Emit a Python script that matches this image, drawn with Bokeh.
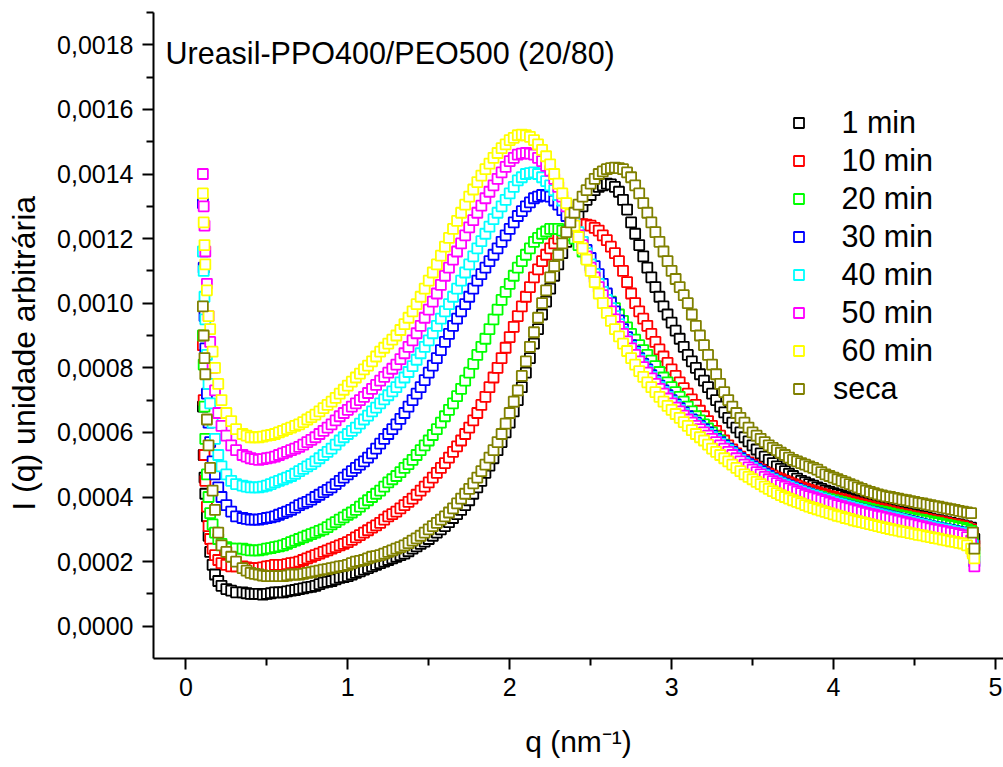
from bokeh.plotting import figure
from bokeh.models import Range1d, FixedTicker, CustomJSTickFormatter, Label, Legend, LegendItem
from bokeh.embed import file_html
from bokeh.resources import INLINE

# q values (nm^-1)
q = [0.105, 0.11, 0.115, 0.12, 0.13, 0.14, 0.15, 0.165, 0.18, 0.2, 0.22, 0.25, 0.28, 0.31,
     0.35, 0.375, 0.4, 0.425, 0.45, 0.475, 0.5, 0.525, 0.55, 0.575,
     0.6, 0.625, 0.65, 0.675, 0.7, 0.725, 0.75, 0.775, 0.8, 0.825,
     0.85, 0.875, 0.9, 0.925, 0.95, 0.975, 1.0, 1.025, 1.05, 1.075,
     1.1, 1.125, 1.15, 1.175, 1.2, 1.225, 1.25, 1.275, 1.3, 1.325,
     1.35, 1.375, 1.4, 1.425, 1.45, 1.475, 1.5, 1.525, 1.55, 1.575,
     1.6, 1.625, 1.65, 1.675, 1.7, 1.725, 1.75, 1.775, 1.8, 1.825,
     1.85, 1.875, 1.9, 1.925, 1.95, 1.975, 2.0, 2.025, 2.05, 2.075,
     2.1, 2.125, 2.15, 2.175, 2.2, 2.225, 2.25, 2.275, 2.3, 2.325,
     2.35, 2.375, 2.4, 2.425, 2.45, 2.475, 2.5, 2.525, 2.55, 2.575,
     2.6, 2.625, 2.65, 2.675, 2.7, 2.725, 2.75, 2.775, 2.8, 2.825,
     2.85, 2.875, 2.9, 2.925, 2.95, 2.975, 3.0, 3.025, 3.05, 3.075,
     3.1, 3.125, 3.15, 3.175, 3.2, 3.225, 3.25, 3.275, 3.3, 3.325,
     3.35, 3.375, 3.4, 3.425, 3.45, 3.475, 3.5, 3.525, 3.55, 3.575,
     3.6, 3.625, 3.65, 3.675, 3.7, 3.725, 3.75, 3.775, 3.8, 3.825,
     3.85, 3.875, 3.9, 3.925, 3.95, 3.975, 4.0, 4.025, 4.05, 4.075,
     4.1, 4.125, 4.15, 4.175, 4.2, 4.225, 4.25, 4.275, 4.3, 4.325,
     4.35, 4.375, 4.4, 4.425, 4.45, 4.475, 4.5, 4.525, 4.55, 4.575,
     4.6, 4.625, 4.65, 4.675, 4.7, 4.725, 4.75, 4.775, 4.8, 4.825,
     4.85, 4.86, 4.87]

# Intensities in units of 1e-4 (arbitrary units)
SCALE = 1e-4
i_1min = [6.8, 5.3, 4.6, 4.1, 3.4, 2.8, 2.3, 1.9, 1.6, 1.4, 1.25, 1.15, 1.1, 1.05,
          1.05, 1.02, 1.0, 1.0, 1.0, 0.98, 1.0, 1.02, 1.05, 1.05,
          1.05, 1.08, 1.1, 1.12, 1.15, 1.17, 1.2, 1.22, 1.25, 1.3,
          1.35, 1.37, 1.4, 1.45, 1.5, 1.52, 1.55, 1.6, 1.65, 1.7,
          1.75, 1.8, 1.85, 1.9, 1.95, 2.0, 2.05, 2.1, 2.15, 2.2,
          2.25, 2.32, 2.4, 2.47, 2.55, 2.62, 2.7, 2.8, 2.9, 3.0,
          3.1, 3.22, 3.35, 3.47, 3.6, 3.75, 3.9, 4.1, 4.3, 4.5,
          4.75, 4.97, 5.2, 5.45, 5.7, 6.0, 6.3, 6.65, 7.0, 7.4,
          7.85, 8.3, 8.75, 9.2, 9.65, 10.05, 10.45, 10.85, 11.2, 11.55,
          11.9, 12.2, 12.5, 12.75, 13.0, 13.2, 13.35, 13.5, 13.6, 13.65,
          13.7, 13.68, 13.6, 13.45, 13.2, 12.9, 12.5, 12.15, 11.8, 11.45,
          11.1, 10.8, 10.5, 10.2, 9.9, 9.65, 9.4, 9.15, 8.9, 8.65,
          8.4, 8.2, 8.0, 7.8, 7.6, 7.4, 7.2, 7.0, 6.8, 6.62,
          6.45, 6.3, 6.15, 6.0, 5.85, 5.72, 5.6, 5.47, 5.35, 5.25,
          5.15, 5.05, 4.95, 4.87, 4.8, 4.72, 4.65, 4.57, 4.5, 4.45,
          4.4, 4.35, 4.3, 4.25, 4.2, 4.16, 4.12, 4.08, 4.05, 4.0,
          3.95, 3.92, 3.88, 3.84, 3.8, 3.77, 3.73, 3.7, 3.67, 3.63,
          3.6, 3.57, 3.55, 3.52, 3.5, 3.47, 3.45, 3.42, 3.4, 3.37,
          3.33, 3.3, 3.28, 3.25, 3.22, 3.2, 3.17, 3.15, 3.12, 3.09,
          3.05, 2.9, 2.7]
i_10min = [8.7, 7.0, 5.3, 4.5, 3.7, 3.1, 2.7, 2.4, 2.2, 2.05, 1.95, 1.9, 1.85, 1.85,
           1.85, 1.82, 1.8, 1.8, 1.8, 1.82, 1.85, 1.87, 1.9, 1.9,
           1.9, 1.92, 1.95, 1.97, 2.0, 2.05, 2.1, 2.15, 2.2, 2.25,
           2.3, 2.35, 2.4, 2.45, 2.5, 2.55, 2.6, 2.67, 2.75, 2.82,
           2.9, 2.97, 3.05, 3.12, 3.2, 3.3, 3.4, 3.47, 3.55, 3.65,
           3.75, 3.85, 3.95, 4.07, 4.2, 4.32, 4.45, 4.6, 4.75, 4.9,
           5.05, 5.22, 5.4, 5.57, 5.75, 5.95, 6.15, 6.37, 6.6, 6.85,
           7.1, 7.4, 7.7, 8.0, 8.3, 8.62, 8.95, 9.27, 9.6, 9.9,
           10.2, 10.5, 10.8, 11.05, 11.3, 11.5, 11.7, 11.85, 12.0, 12.12,
           12.25, 12.32, 12.4, 12.43, 12.45, 12.43, 12.4, 12.33, 12.25, 12.1,
           11.95, 11.75, 11.55, 11.3, 11.0, 10.65, 10.3, 10.0, 9.75, 9.52,
           9.3, 9.05, 8.8, 8.57, 8.35, 8.15, 7.95, 7.75, 7.55, 7.37,
           7.2, 7.02, 6.85, 6.67, 6.5, 6.35, 6.2, 6.05, 5.9, 5.75,
           5.6, 5.47, 5.35, 5.25, 5.15, 5.07, 5.0, 4.92, 4.85, 4.78,
           4.72, 4.66, 4.6, 4.55, 4.5, 4.45, 4.4, 4.35, 4.3, 4.26,
           4.22, 4.18, 4.14, 4.1, 4.07, 4.03, 4.0, 3.96, 3.93, 3.9,
           3.86, 3.83, 3.8, 3.77, 3.74, 3.71, 3.68, 3.65, 3.62, 3.59,
           3.56, 3.53, 3.5, 3.47, 3.45, 3.42, 3.4, 3.37, 3.35, 3.32,
           3.3, 3.27, 3.25, 3.22, 3.2, 3.17, 3.15, 3.12, 3.1, 3.06,
           3.0, 2.8, 2.5]
i_20min = [9.0, 8.1, 6.8, 5.8, 4.7, 4.0, 3.5, 3.15, 2.9, 2.7, 2.55, 2.45, 2.4, 2.4,
           2.4, 2.37, 2.35, 2.35, 2.35, 2.37, 2.4, 2.42, 2.45, 2.47,
           2.5, 2.55, 2.6, 2.65, 2.7, 2.75, 2.8, 2.85, 2.9, 2.95,
           3.0, 3.07, 3.15, 3.22, 3.3, 3.37, 3.45, 3.52, 3.6, 3.7,
           3.8, 3.9, 4.0, 4.1, 4.2, 4.32, 4.45, 4.55, 4.65, 4.77,
           4.9, 5.02, 5.15, 5.3, 5.45, 5.6, 5.75, 5.92, 6.1, 6.3,
           6.5, 6.7, 6.9, 7.12, 7.35, 7.6, 7.85, 8.12, 8.4, 8.65,
           8.9, 9.2, 9.5, 9.8, 10.1, 10.35, 10.6, 10.85, 11.1, 11.3,
           11.5, 11.7, 11.9, 12.02, 12.15, 12.22, 12.3, 12.3, 12.3, 12.25,
           12.2, 12.1, 12.0, 11.8, 11.6, 11.37, 11.15, 10.92, 10.7, 10.47,
           10.25, 10.05, 9.85, 9.65, 9.45, 9.25, 9.05, 8.87, 8.7, 8.55,
           8.4, 8.22, 8.05, 7.87, 7.7, 7.55, 7.4, 7.25, 7.1, 6.95,
           6.8, 6.65, 6.5, 6.37, 6.25, 6.12, 6.0, 5.87, 5.75, 5.62,
           5.5, 5.37, 5.25, 5.15, 5.05, 4.96, 4.88, 4.8, 4.73, 4.66,
           4.6, 4.54, 4.48, 4.42, 4.37, 4.32, 4.27, 4.22, 4.18, 4.14,
           4.1, 4.06, 4.03, 4.0, 3.96, 3.93, 3.9, 3.87, 3.84, 3.81,
           3.78, 3.75, 3.72, 3.69, 3.66, 3.63, 3.6, 3.57, 3.55, 3.52,
           3.49, 3.46, 3.44, 3.41, 3.39, 3.36, 3.34, 3.31, 3.29, 3.26,
           3.24, 3.21, 3.19, 3.16, 3.14, 3.11, 3.09, 3.06, 3.04, 3.0,
           2.95, 2.7, 2.3]
i_30min = [13.1, 11.1, 9.6, 8.6, 7.2, 6.3, 5.7, 5.1, 4.7, 4.3, 4.0, 3.75, 3.55, 3.4,
           3.35, 3.32, 3.3, 3.3, 3.3, 3.32, 3.35, 3.37, 3.4, 3.45,
           3.5, 3.55, 3.6, 3.67, 3.75, 3.8, 3.85, 3.92, 4.0, 4.07,
           4.15, 4.22, 4.3, 4.4, 4.5, 4.6, 4.7, 4.8, 4.9, 5.0,
           5.1, 5.22, 5.35, 5.5, 5.65, 5.8, 5.95, 6.1, 6.25, 6.42,
           6.6, 6.8, 7.0, 7.2, 7.4, 7.62, 7.85, 8.07, 8.3, 8.55,
           8.8, 9.05, 9.3, 9.52, 9.75, 9.97, 10.2, 10.45, 10.7, 10.9,
           11.1, 11.3, 11.5, 11.7, 11.9, 12.1, 12.3, 12.5, 12.7, 12.85,
           13.0, 13.12, 13.25, 13.3, 13.35, 13.33, 13.3, 13.18, 13.05, 12.88,
           12.7, 12.5, 12.3, 12.1, 11.9, 11.65, 11.4, 11.15, 10.9, 10.6,
           10.3, 10.02, 9.75, 9.47, 9.2, 8.95, 8.7, 8.5, 8.3, 8.12,
           7.95, 7.77, 7.6, 7.45, 7.3, 7.15, 7.0, 6.87, 6.75, 6.62,
           6.5, 6.4, 6.3, 6.2, 6.1, 6.0, 5.9, 5.8, 5.7, 5.6,
           5.5, 5.4, 5.3, 5.2, 5.1, 5.02, 4.95, 4.87, 4.8, 4.72,
           4.65, 4.57, 4.5, 4.45, 4.4, 4.35, 4.3, 4.25, 4.2, 4.15,
           4.1, 4.05, 4.0, 3.96, 3.92, 3.88, 3.85, 3.81, 3.78, 3.74,
           3.71, 3.67, 3.64, 3.61, 3.58, 3.55, 3.52, 3.49, 3.46, 3.43,
           3.4, 3.37, 3.34, 3.31, 3.28, 3.25, 3.22, 3.19, 3.16, 3.13,
           3.1, 3.07, 3.05, 3.02, 3.0, 2.97, 2.95, 2.92, 2.9, 2.86,
           2.8, 2.5, 2.0]
i_40min = [11.6, 11.0, 10.2, 9.5, 8.4, 7.5, 6.9, 6.3, 5.8, 5.3, 4.95, 4.7, 4.5, 4.4,
           4.35, 4.32, 4.3, 4.3, 4.3, 4.32, 4.35, 4.4, 4.45, 4.5,
           4.55, 4.6, 4.65, 4.72, 4.8, 4.87, 4.95, 5.02, 5.1, 5.2,
           5.3, 5.4, 5.5, 5.62, 5.75, 5.85, 5.95, 6.05, 6.15, 6.27,
           6.4, 6.52, 6.65, 6.77, 6.9, 7.02, 7.15, 7.27, 7.4, 7.55,
           7.7, 7.87, 8.05, 8.25, 8.45, 8.65, 8.85, 9.07, 9.3, 9.52,
           9.75, 9.97, 10.2, 10.45, 10.7, 10.95, 11.2, 11.45, 11.7, 11.92,
           12.15, 12.37, 12.6, 12.8, 13.0, 13.2, 13.4, 13.6, 13.8, 13.9,
           14.0, 14.03, 14.05, 14.0, 13.9, 13.78, 13.65, 13.5, 13.35, 13.18,
           13.0, 12.75, 12.5, 12.2, 11.9, 11.55, 11.2, 10.9, 10.6, 10.35,
           10.1, 9.85, 9.6, 9.35, 9.1, 8.87, 8.65, 8.45, 8.25, 8.07,
           7.9, 7.72, 7.55, 7.4, 7.25, 7.1, 6.95, 6.82, 6.7, 6.57,
           6.45, 6.35, 6.25, 6.15, 6.05, 5.95, 5.85, 5.75, 5.65, 5.55,
           5.45, 5.35, 5.25, 5.15, 5.05, 4.97, 4.9, 4.82, 4.75, 4.67,
           4.6, 4.54, 4.48, 4.42, 4.37, 4.32, 4.27, 4.22, 4.17, 4.12,
           4.08, 4.04, 4.0, 3.96, 3.92, 3.88, 3.84, 3.8, 3.77, 3.73,
           3.7, 3.66, 3.63, 3.6, 3.56, 3.53, 3.5, 3.47, 3.44, 3.41,
           3.38, 3.35, 3.32, 3.29, 3.26, 3.23, 3.2, 3.17, 3.14, 3.11,
           3.08, 3.05, 3.03, 3.0, 2.98, 2.95, 2.93, 2.9, 2.88, 2.84,
           2.75, 2.5, 2.1]
i_50min = [14.0, 13.0, 12.4, 11.6, 10.6, 9.6, 8.8, 8.0, 7.3, 6.6, 6.2, 5.9, 5.6, 5.45,
           5.3, 5.25, 5.2, 5.17, 5.15, 5.17, 5.2, 5.22, 5.25, 5.3,
           5.35, 5.4, 5.45, 5.5, 5.55, 5.62, 5.7, 5.77, 5.85, 5.95,
           6.05, 6.15, 6.25, 6.37, 6.5, 6.6, 6.7, 6.8, 6.9, 7.0,
           7.1, 7.22, 7.35, 7.47, 7.6, 7.72, 7.85, 7.97, 8.1, 8.27,
           8.45, 8.65, 8.85, 9.07, 9.3, 9.55, 9.8, 10.05, 10.3, 10.57,
           10.85, 11.1, 11.35, 11.6, 11.85, 12.1, 12.35, 12.57, 12.8, 13.02,
           13.25, 13.45, 13.65, 13.85, 14.05, 14.22, 14.4, 14.5, 14.6, 14.63,
           14.65, 14.63, 14.6, 14.5, 14.4, 14.25, 14.1, 13.85, 13.6, 13.3,
           13.0, 12.7, 12.4, 12.1, 11.8, 11.45, 11.1, 10.8, 10.5, 10.25,
           10.0, 9.75, 9.5, 9.27, 9.05, 8.82, 8.6, 8.4, 8.2, 8.02,
           7.85, 7.67, 7.5, 7.35, 7.2, 7.05, 6.9, 6.77, 6.65, 6.52,
           6.4, 6.3, 6.2, 6.1, 6.0, 5.9, 5.8, 5.7, 5.6, 5.5,
           5.4, 5.3, 5.2, 5.1, 5.0, 4.92, 4.85, 4.77, 4.7, 4.62,
           4.55, 4.49, 4.43, 4.37, 4.32, 4.27, 4.22, 4.17, 4.12, 4.07,
           4.03, 3.99, 3.95, 3.91, 3.87, 3.83, 3.79, 3.75, 3.72, 3.68,
           3.65, 3.61, 3.58, 3.54, 3.51, 3.48, 3.45, 3.42, 3.39, 3.36,
           3.33, 3.3, 3.27, 3.24, 3.21, 3.18, 3.15, 3.12, 3.09, 3.06,
           3.03, 3.0, 2.98, 2.95, 2.93, 2.9, 2.88, 2.85, 2.82, 2.76,
           2.65, 2.3, 1.85]
i_60min = [13.4, 12.5, 11.8, 11.2, 10.4, 9.6, 9.2, 8.5, 8.0, 7.5, 7.0, 6.6, 6.35, 6.1,
           5.95, 5.9, 5.85, 5.85, 5.85, 5.87, 5.9, 5.92, 5.95, 6.0,
           6.05, 6.1, 6.15, 6.2, 6.25, 6.32, 6.4, 6.47, 6.55, 6.65,
           6.75, 6.85, 6.95, 7.07, 7.2, 7.32, 7.45, 7.57, 7.7, 7.82,
           7.95, 8.07, 8.2, 8.35, 8.5, 8.62, 8.75, 8.87, 9.0, 9.17,
           9.35, 9.55, 9.75, 9.97, 10.2, 10.45, 10.7, 10.95, 11.2, 11.47,
           11.75, 12.02, 12.3, 12.55, 12.8, 13.05, 13.3, 13.52, 13.75, 13.95,
           14.15, 14.32, 14.5, 14.65, 14.8, 14.92, 15.05, 15.12, 15.2, 15.22,
           15.2, 15.15, 15.05, 14.92, 14.75, 14.55, 14.3, 14.0, 13.7, 13.4,
           13.1, 12.75, 12.4, 12.05, 11.7, 11.35, 11.0, 10.65, 10.3, 10.0,
           9.7, 9.45, 9.2, 8.97, 8.75, 8.52, 8.3, 8.1, 7.9, 7.72,
           7.55, 7.4, 7.25, 7.1, 6.95, 6.82, 6.7, 6.57, 6.45, 6.32,
           6.2, 6.07, 5.95, 5.85, 5.75, 5.62, 5.5, 5.4, 5.3, 5.2,
           5.1, 5.0, 4.9, 4.8, 4.7, 4.62, 4.55, 4.47, 4.4, 4.32,
           4.25, 4.18, 4.12, 4.06, 4.0, 3.95, 3.9, 3.85, 3.8, 3.75,
           3.7, 3.66, 3.62, 3.58, 3.54, 3.5, 3.46, 3.42, 3.39, 3.35,
           3.32, 3.28, 3.25, 3.22, 3.19, 3.16, 3.13, 3.1, 3.07, 3.04,
           3.01, 2.98, 2.96, 2.93, 2.91, 2.88, 2.86, 2.83, 2.81, 2.78,
           2.76, 2.73, 2.71, 2.68, 2.66, 2.63, 2.61, 2.58, 2.56, 2.5,
           2.4, 2.25, 2.1]
i_seca = [9.9, 9.0, 8.3, 7.8, 6.4, 5.6, 4.9, 4.2, 3.6, 2.9, 2.5, 2.3, 2.15, 2.0,
          1.8, 1.72, 1.65, 1.62, 1.6, 1.57, 1.55, 1.55, 1.55, 1.55,
          1.55, 1.57, 1.6, 1.6, 1.6, 1.62, 1.65, 1.67, 1.7, 1.72,
          1.75, 1.77, 1.8, 1.82, 1.85, 1.87, 1.9, 1.95, 2.0, 2.02,
          2.05, 2.1, 2.15, 2.17, 2.2, 2.25, 2.3, 2.35, 2.4, 2.45,
          2.5, 2.57, 2.65, 2.72, 2.8, 2.9, 3.0, 3.1, 3.2, 3.3,
          3.4, 3.52, 3.65, 3.8, 3.95, 4.1, 4.25, 4.42, 4.6, 4.8,
          5.0, 5.22, 5.45, 5.7, 5.95, 6.27, 6.6, 6.95, 7.3, 7.75,
          8.2, 8.65, 9.1, 9.55, 10.0, 10.4, 10.8, 11.15, 11.5, 11.85,
          12.2, 12.5, 12.8, 13.05, 13.3, 13.5, 13.7, 13.85, 14.0, 14.08,
          14.15, 14.18, 14.2, 14.18, 14.15, 14.05, 13.9, 13.65, 13.4, 13.1,
          12.8, 12.5, 12.2, 11.9, 11.6, 11.3, 11.0, 10.75, 10.5, 10.25,
          10.0, 9.65, 9.3, 9.0, 8.7, 8.4, 8.1, 7.8, 7.5, 7.25,
          7.0, 6.8, 6.6, 6.45, 6.3, 6.15, 6.0, 5.9, 5.8, 5.7,
          5.6, 5.52, 5.45, 5.37, 5.3, 5.22, 5.15, 5.1, 5.05, 5.0,
          4.95, 4.9, 4.85, 4.77, 4.7, 4.65, 4.6, 4.55, 4.5, 4.45,
          4.4, 4.35, 4.3, 4.25, 4.2, 4.16, 4.12, 4.08, 4.05, 4.02,
          4.0, 3.97, 3.95, 3.92, 3.9, 3.87, 3.85, 3.82, 3.8, 3.77,
          3.75, 3.72, 3.7, 3.67, 3.65, 3.62, 3.6, 3.57, 3.55, 3.52,
          3.5, 2.9, 2.4]

labels = ["\u00a01 min", "\u00a010 min", "\u00a020 min", "\u00a030 min",
          "\u00a040 min", "\u00a050 min", "\u00a060 min", "seca"]
colors = ["#000000", "#FF0000", "#00FF00", "#0000FF",
          "#00FFFF", "#FF00FF", "#FFFF00", "#808000"]
values = [i_1min, i_10min, i_20min, i_30min, i_40min, i_50min, i_60min, i_seca]

for lab, vals in zip(labels, values):
    if len(vals) != len(q):
        raise SystemExit("length mismatch for %r: %d vs %d" % (lab, len(vals), len(q)))

x_ticks = [0, 1, 2, 3, 4, 5]
x_minor = [0.5, 1.5, 2.5, 3.5, 4.5]
y_ticks = [0.0, 0.0002, 0.0004, 0.0006, 0.0008, 0.0010, 0.0012, 0.0014, 0.0016, 0.0018]
y_minor = [0.0001, 0.0003, 0.0005, 0.0007, 0.0009, 0.0011, 0.0013, 0.0015, 0.0017, 0.0019]

FONT = "Liberation Sans"

p = figure(width=1003, height=767, output_backend="svg", toolbar_location=None,
           x_range=Range1d(-0.2, 5.05), y_range=Range1d(-0.0001, 0.0019),
           min_border_left=153, min_border_right=0, min_border_top=12, min_border_bottom=109)
p.outline_line_color = None
p.xgrid.visible = False
p.ygrid.visible = False
p.background_fill_color = "white"
p.border_fill_color = "white"

items = []
for lab, col, vals in zip(labels, colors, values):
    r = p.scatter(q, [v * SCALE for v in vals], marker="square", size=10,
                  line_color=col, line_width=1.8, fill_color="white")
    items.append(LegendItem(label=lab, renderers=[r]))

for ax in (p.xaxis[0], p.yaxis[0]):
    ax.axis_line_width = 2
    ax.axis_line_color = "black"
    ax.major_tick_line_width = 2
    ax.minor_tick_line_width = 2
    ax.major_tick_line_color = "black"
    ax.minor_tick_line_color = "black"
    ax.major_tick_out = 11
    ax.major_tick_in = 0
    ax.minor_tick_out = 7
    ax.minor_tick_in = 0
    ax.major_label_text_font = FONT
    ax.major_label_text_font_size = "25px"
    ax.major_label_text_color = "black"
    ax.axis_label_text_font = FONT
    ax.axis_label_text_font_style = "normal"
    ax.axis_label_text_color = "black"

p.xaxis.ticker = FixedTicker(ticks=x_ticks, minor_ticks=x_minor)
p.yaxis.ticker = FixedTicker(ticks=y_ticks, minor_ticks=y_minor)
p.yaxis.formatter = CustomJSTickFormatter(code="return tick.toFixed(4).replace('.', ',');")
p.xaxis.major_label_standoff = 8
p.yaxis.major_label_standoff = 9

p.xaxis.axis_label = "q (nm\u207b\u00b9)"
p.xaxis.axis_label_text_font_size = "30px"
p.xaxis.axis_label_standoff = 26
p.yaxis.axis_label = "I (q) unidade arbitrária\u00a0\u00a0\u00a0\u00a0"
p.yaxis.axis_label_text_font_size = "32px"
p.yaxis.axis_label_standoff = 12

legend = Legend(items=items, location=(633, 252), orientation="vertical",
                label_text_font=FONT, label_text_font_size="30.5px",
                label_text_color="black",
                glyph_width=25, glyph_height=25, label_standoff=22,
                label_height=34, spacing=3, padding=0, margin=0,
                border_line_color=None, background_fill_alpha=0)
p.add_layout(legend)

p.add_layout(Label(x=12, y=606, x_units="screen", y_units="screen",
                   text="Ureasil-PPO400/PEO500 (20/80)", text_font=FONT,
                   text_color="black",
                   text_font_size="30.5px", text_baseline="alphabetic", text_align="left"))

open("out.html", "w").write(file_html(p, INLINE))
